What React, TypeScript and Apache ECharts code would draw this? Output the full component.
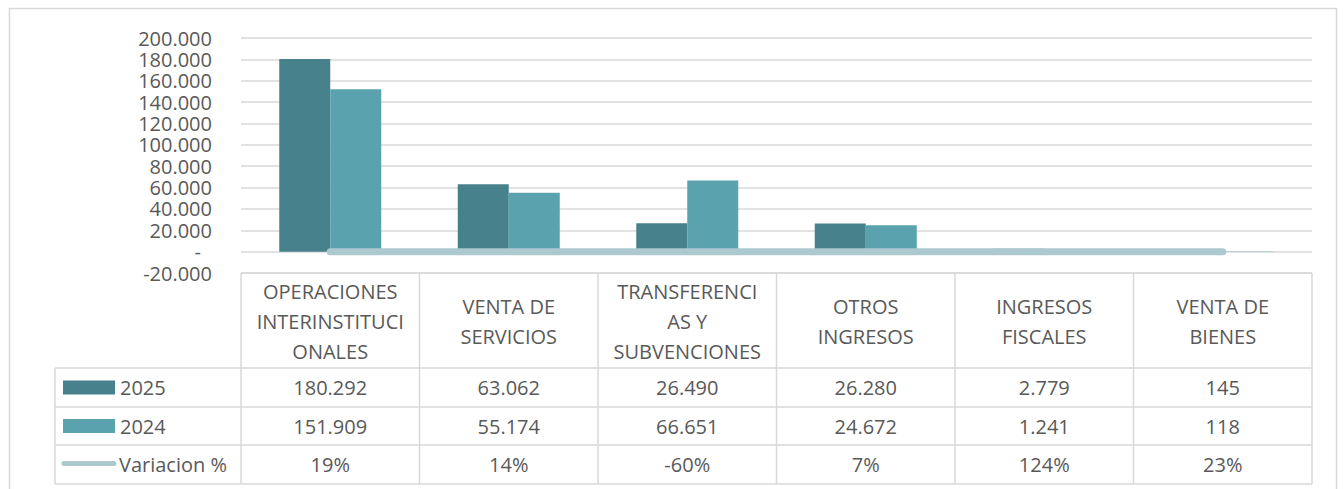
import React, { useEffect, useRef } from "react";
import * as echarts from "echarts";

const categories = [
  "OPERACIONES\nINTERINSTITUCI\nONALES",
  "VENTA DE\nSERVICIOS",
  "TRANSFERENCI\nAS Y\nSUBVENCIONES",
  "OTROS\nINGRESOS",
  "INGRESOS\nFISCALES",
  "VENTA DE\nBIENES",
];
const seriesNames = ["2025", "2024", "Variacion %"];
const values2025 = [180292, 63062, 26490, 26280, 2779, 145];
const values2024 = [151909, 55174, 66651, 24672, 1241, 118];
const variation = [0.19, 0.14, -0.6, 0.07, 1.24, 0.23];
const yTicks = { min: -20000, max: 200000, interval: 20000 };

const fmtNum = (v: number) => {
  const neg = v < 0;
  const s = Math.round(Math.abs(v)).toString().replace(/\B(?=(\d{3})+(?!\d))/g, ".");
  return (neg ? "-" : "") + s;
};
const fmtPct = (v: number) => Math.round(v * 100) + "%";

const W = 1344;
const H = 489;
const gridLeft = 241;
const gridRight = 1312;
const gridTop = 38;
const tableTop = 273;
const rowYs = [273, 368, 407, 445, 484];
const tableLeft = 55;
const gray = "#595959";
const border = "#D9D9D9";
const font = "Open Sans";
const colors = ["#47818B", "#5AA2AE", "#ABC9CF"];

export default function App() {
  const ref = useRef<HTMLDivElement>(null);
  useEffect(() => {
    if (!ref.current) return;
    const chart = echarts.init(ref.current, undefined, { renderer: "svg" });
    const n = categories.length;
    const colW = (gridRight - gridLeft) / n;
    const graphics: any[] = [];
    graphics.push({
      type: "rect",
      shape: { x: 9.5, y: 8.5, width: 1327, height: 490 },
      style: { fill: "none", stroke: border, lineWidth: 1.5 },
      silent: true,
    });
    rowYs.forEach((y, i) => {
      graphics.push({
        type: "line",
        shape: { x1: i === 0 ? gridLeft : tableLeft, y1: y, x2: gridRight, y2: y },
        style: { stroke: border, lineWidth: 1.5 },
        silent: true,
      });
    });
    graphics.push({
      type: "line",
      shape: { x1: tableLeft, y1: rowYs[1], x2: tableLeft, y2: rowYs[4] },
      style: { stroke: border, lineWidth: 1.5 },
      silent: true,
    });
    for (let i = 0; i <= n; i++) {
      const x = gridLeft + i * colW;
      graphics.push({
        type: "line",
        shape: { x1: x, y1: tableTop, x2: x, y2: rowYs[4] },
        style: { stroke: border, lineWidth: 1.5 },
        silent: true,
      });
    }
    seriesNames.forEach((name, i) => {
      const cy = (rowYs[i + 1] + rowYs[i + 2]) / 2;
      if (i < 2) {
        graphics.push({
          type: "rect",
          shape: { x: 63, y: cy - 7, width: 52, height: 14 },
          style: { fill: colors[i] },
          silent: true,
        });
      } else {
        graphics.push({
          type: "line",
          shape: { x1: 64, y1: cy - 1, x2: 114, y2: cy - 1 },
          style: { stroke: colors[i], lineWidth: 5, lineCap: "round" },
          silent: true,
        });
      }
      graphics.push({
        type: "text",
        x: i < 2 ? 120 : 119,
        y: cy,
        style: {
          text: name,
          fontSize: 20,
          fontFamily: font,
          fill: gray,
          verticalAlign: "middle",
          align: "left",
        },
        silent: true,
      });
    });

    const rowAxis = (offset: number, fmt: (i: number) => string) => ({
      type: "category",
      data: categories,
      position: "bottom",
      offset,
      gridIndex: 0,
      axisLine: { show: false },
      axisTick: { show: false },
      splitLine: { show: false },
      axisLabel: {
        margin: 0,
        verticalAlign: "middle",
        fontSize: 20,
        color: gray,
        fontFamily: font,
        interval: 0,
        formatter: (_v: string, i: number) => fmt(i),
      },
    });

    chart.setOption({
      animation: false,
      textStyle: { fontFamily: font },
      grid: { left: gridLeft, right: W - gridRight, top: gridTop, bottom: H - tableTop },
      legend: { show: false },
      xAxis: [
        {
          type: "category",
          data: categories,
          position: "bottom",
          axisLine: { show: false },
          axisTick: { show: false },
          axisLabel: {
            interval: 0,
            margin: 48,
            verticalAlign: "middle",
            fontSize: 20,
            lineHeight: 30,
            color: gray,
            fontFamily: font,
          },
        },
        rowAxis(114.5, (i) => fmtNum(values2025[i])),
        rowAxis(153, (i) => fmtNum(values2024[i])),
        rowAxis(191.5, (i) => fmtPct(variation[i])),
      ],
      yAxis: {
        type: "value",
        min: yTicks.min,
        max: yTicks.max,
        interval: yTicks.interval,
        axisLine: { show: false },
        axisTick: { show: false },
        splitLine: { lineStyle: { color: border, width: 1.5 } },
        axisLabel: {
          margin: 29,
          fontSize: 20,
          lineHeight: 20,
          color: gray,
          fontFamily: font,
          formatter: (v: number) => (v === 0 ? "{z|-}" : fmtNum(v)),
          rich: { z: { fontSize: 20, color: gray, padding: [0, 11, 0, 0] } },
        },
      },
      series: [
        {
          name: seriesNames[0],
          type: "bar",
          data: values2025,
          barWidth: 51,
          barGap: "0%",
          itemStyle: { color: colors[0] },
        },
        {
          name: seriesNames[1],
          type: "bar",
          data: values2024,
          barWidth: 51,
          barGap: "0%",
          itemStyle: { color: colors[1] },
        },
        {
          name: seriesNames[2],
          type: "line",
          data: variation,
          symbol: "none",
          z: 5,
          lineStyle: { color: colors[2], width: 7, cap: "round" },
          itemStyle: { color: colors[2] },
        },
      ],
      graphic: graphics,
    });
    return () => chart.dispose();
  }, []);
  return (
    <div
      ref={ref}
      style={{ position: "fixed", left: 0, top: 0, width: W, height: H, background: "#fff" }}
    />
  );
}
